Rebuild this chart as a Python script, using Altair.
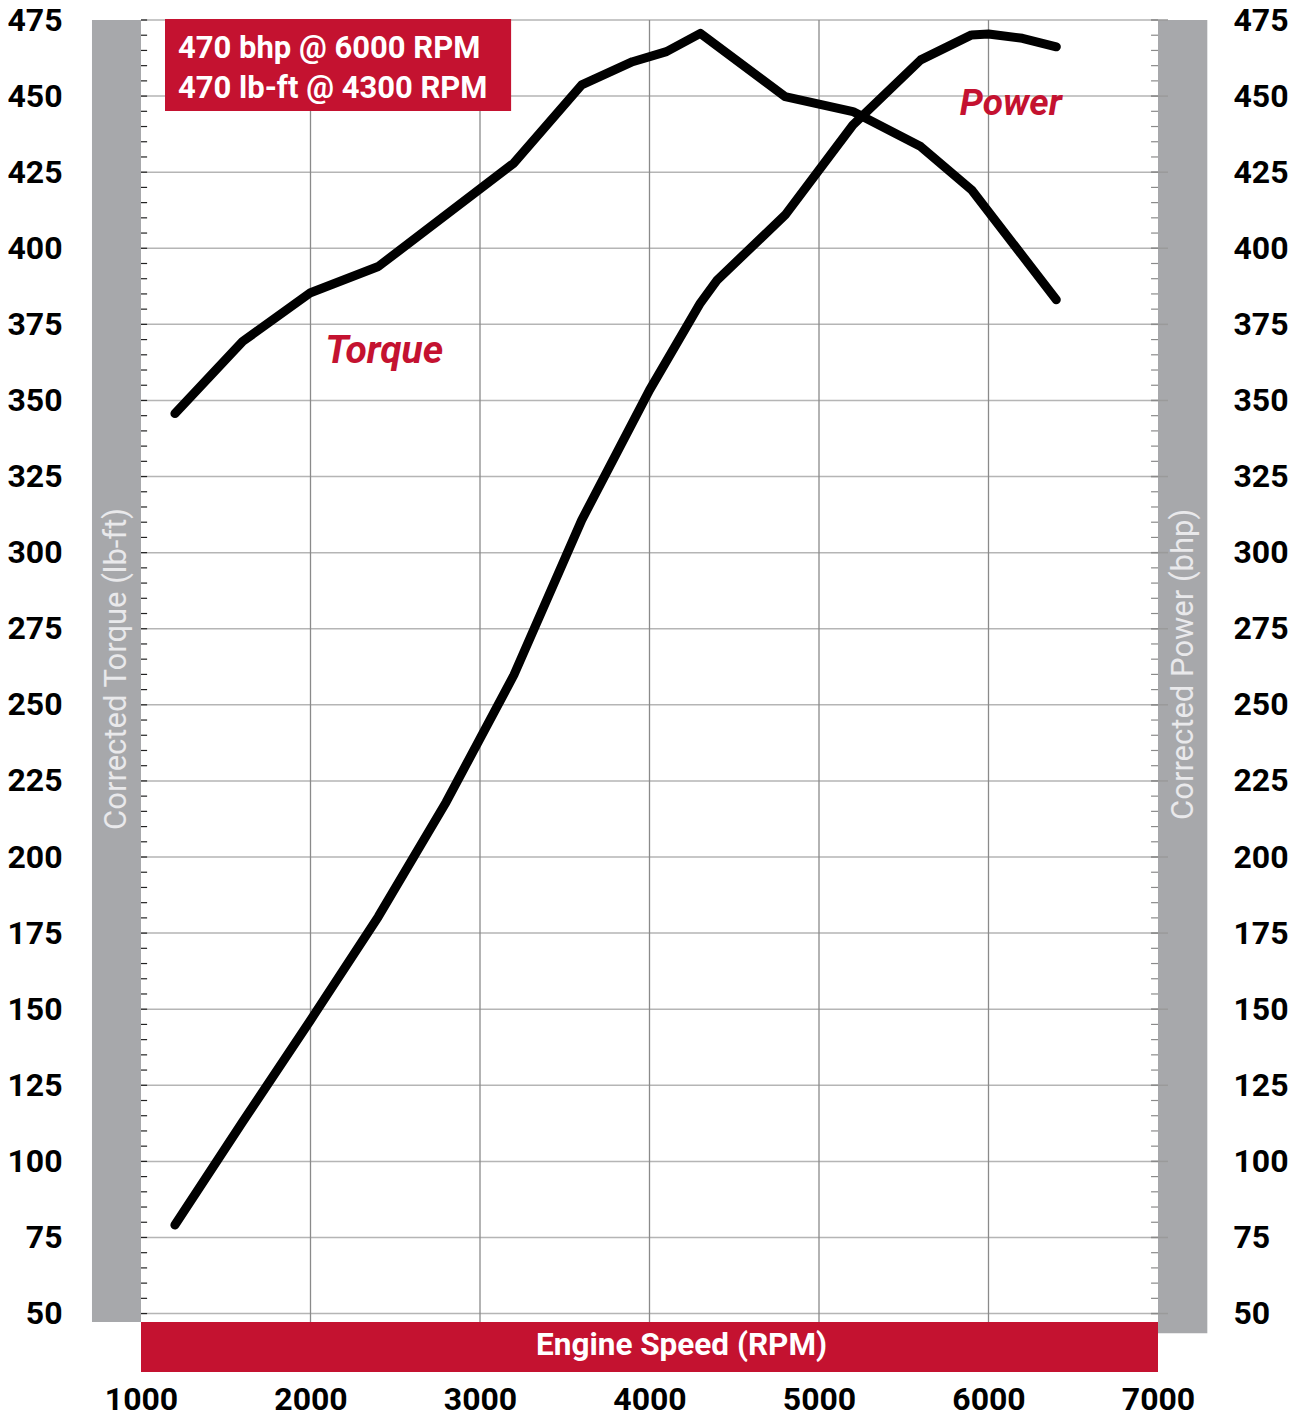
import altair as alt
import pandas as pd

# ---------------- data ----------------
torque_rpm = [1200, 1600, 2000, 2400, 3200, 3600, 3900, 4100, 4300, 4800, 5200, 5600, 5900, 6400]
torque_val = [345.7, 369.4, 385.4, 394.0, 428.0, 453.7, 461.3, 464.6, 470.6, 449.8, 444.9, 433.4, 419.2, 383.1]

power_rpm = [1200, 1600, 2000, 2400, 2800, 3200, 3600, 4000, 4300, 4400, 4800, 5200, 5600, 5900, 6000, 6200, 6400]
power_val = [79.1, 113.0, 146.4, 180.4, 218.0, 259.8, 310.7, 353.4, 382.0, 389.6, 410.9, 440.5, 461.9, 470.1, 470.4, 469.0, 466.2]

x_ticks = [1000, 2000, 3000, 4000, 5000, 6000, 7000]
x_grid = [2000, 3000, 4000, 5000, 6000]
y_ticks = [50, 75, 100, 125, 150, 175, 200, 225, 250, 275, 300, 325, 350, 375, 400, 425, 450, 475]
y_minor = list(range(50, 480, 5))

box_lines = ["470 bhp @ 6000 RPM", "470 lb-ft @ 4300 RPM"]
x_title = "Engine Speed (RPM)"
y_left_title = "Corrected Torque (lb-ft)"
y_right_title = "Corrected Power (bhp)"

RED = "#c41230"
GRAY = "#a7a8ab"
FONT = "Roboto"

X_DOM = [1000, 7000]
Y_DOM = [30.8, 475]

xs = alt.Scale(domain=X_DOM, nice=False, zero=False)
ys = alt.Scale(domain=Y_DOM, nice=False, zero=False)

X_AXIS = alt.Axis(values=x_ticks, domain=False, ticks=False, grid=False,
                  labelPadding=12, labelFontSize=32, labelFontWeight="bold",
                  labelFont=FONT, labelColor="black", labelFlush=False,
                  labelOverlap=False, format="d", title=None)
Y_AXIS = alt.Axis(values=y_ticks, domain=False, ticks=False, grid=False,
                  labelPadding=79, labelFontSize=32, labelFontWeight="bold",
                  labelFont=FONT, labelColor="black", labelFlush=False,
                  labelOverlap=False, format="d", title=None)
Y_AXIS_R = alt.Axis(orient="right", values=y_ticks, domain=False, ticks=False, grid=False,
                    labelPadding=75, labelFontSize=32, labelFontWeight="bold",
                    labelFont=FONT, labelColor="black", labelFlush=False,
                    labelOverlap=False, format="d", title=None)

def X(field):
    return alt.X(field, type="quantitative", scale=xs, axis=X_AXIS)

def Y(field):
    return alt.Y(field, type="quantitative", scale=ys, axis=Y_AXIS)

# ---------------- bands ----------------
bands = pd.DataFrame({
    "x": [710.8, 7000, 1000],
    "x2": [1000, 7291, 7000],
    "y": [47.2, 43.5, 30.8],
    "y2": [475, 475, 47.2],
    "c": [GRAY, GRAY, RED],
})
band_layer = alt.Chart(bands).mark_rect().encode(
    x=X("x"), x2="x2", y=Y("y"), y2="y2",
    color=alt.Color("c:N", scale=None),
)

# ---------------- grid ----------------
hgrid = alt.Chart(pd.DataFrame({"y": y_ticks, "x": 1000, "x2": 7000})).mark_rule(
    color="#b5b5b5", strokeWidth=1.5).encode(x=X("x"), x2="x2", y=Y("y"))
vgrid = alt.Chart(pd.DataFrame({"x": x_grid, "y": 47.2, "y2": 475})).mark_rule(
    color="#8a8a8a", strokeWidth=1.3).encode(x=X("x"), y=Y("y"), y2="y2")

# left minor ticks (black, inward)
lticks = alt.Chart(pd.DataFrame({"y": y_minor, "x": 1000, "x2": 1036})).mark_rule(
    color="#222222", strokeWidth=1.2).encode(x=X("x"), x2="x2", y=Y("y"))

# right major ticks into band
rmajor = alt.Chart(pd.DataFrame({"y": y_ticks, "x": 6959, "x2": 7059})).mark_rule(
    color="#9a9a9a", strokeWidth=1.5).encode(x=X("x"), x2="x2", y=Y("y"))

# ---------------- curves ----------------
curves = pd.concat([
    pd.DataFrame({"rpm": torque_rpm, "v": torque_val, "s": "Torque"}),
    pd.DataFrame({"rpm": power_rpm, "v": power_val, "s": "Power"}),
])
line_layer = alt.Chart(curves).mark_line(
    color="black", strokeWidth=9, strokeCap="round", strokeJoin="round").encode(
    x=X("rpm"), y=Y("v"), detail="s:N", order="rpm:Q")

# ---------------- annotation box ----------------
box = alt.Chart(pd.DataFrame({"x": [1141.6], "x2": [3183.5], "y": [445.1], "y2": [475.3]})).mark_rect(
    color=RED).encode(x=X("x"), x2="x2", y=Y("y"), y2="y2")
box_text = alt.Chart(pd.DataFrame({"t": box_lines, "x": [1218, 1218], "y": [465.5, 452.3]})).mark_text(
    color="white", font=FONT, fontSize=31, fontWeight="bold", align="left", baseline="middle").encode(
    x=X("x"), y=Y("y"), text="t:N")

# ---------------- series labels ----------------
series_labels = alt.Chart(pd.DataFrame({"t": ["Torque", "Power"], "x": [2435, 6132], "y": [366.4, 447.4],
                                        "fs": [39, 37]})).mark_text(
    color=RED, font=FONT, fontWeight="bold", fontStyle="italic",
    align="center", baseline="middle").encode(
    x=X("x"), y=Y("y"), text="t:N", size=alt.Size("fs:Q", scale=None, legend=None))

# ---------------- titles ----------------
xt = alt.Chart(pd.DataFrame({"t": [x_title], "x": [4189], "y": [39.2]})).mark_text(
    color="white", font=FONT, fontSize=31.5, fontWeight="bold", align="center", baseline="middle").encode(
    x=X("x"), y=Y("y"), text="t:N")
ytitles = alt.Chart(pd.DataFrame({"t": [y_left_title, y_right_title], "x": [858, 7153], "y": [261.8, 263.3]})).mark_text(
    color="#e9e9eb", font=FONT, fontSize=31, angle=270, align="center", baseline="middle").encode(
    x=X("x"), y=Y("y"), text="t:N")

left_group = alt.layer(band_layer, hgrid, vgrid, lticks, rmajor, line_layer, box, box_text,
                       series_labels, xt, ytitles)

# right minor ticks (gray, inward) carrying the right-hand axis
right_axis = alt.Chart(pd.DataFrame({"y": y_minor, "x": 6959, "x2": 7000})).mark_rule(
    color="#8a8a8a", strokeWidth=1.2).encode(
    x=X("x"), x2="x2",
    y=alt.Y("y", type="quantitative", scale=ys, axis=Y_AXIS_R))

chart = alt.layer(left_group, right_axis).resolve_scale(y="independent").properties(
    width=1017, height=1352,
    autosize=alt.AutoSizeParams(type="none"),
    padding={"left": 133, "top": 12, "right": 130, "bottom": 55},
).configure_view(stroke=None)

chart.save("out.html", embed_options={"renderer": "svg", "actions": False})
